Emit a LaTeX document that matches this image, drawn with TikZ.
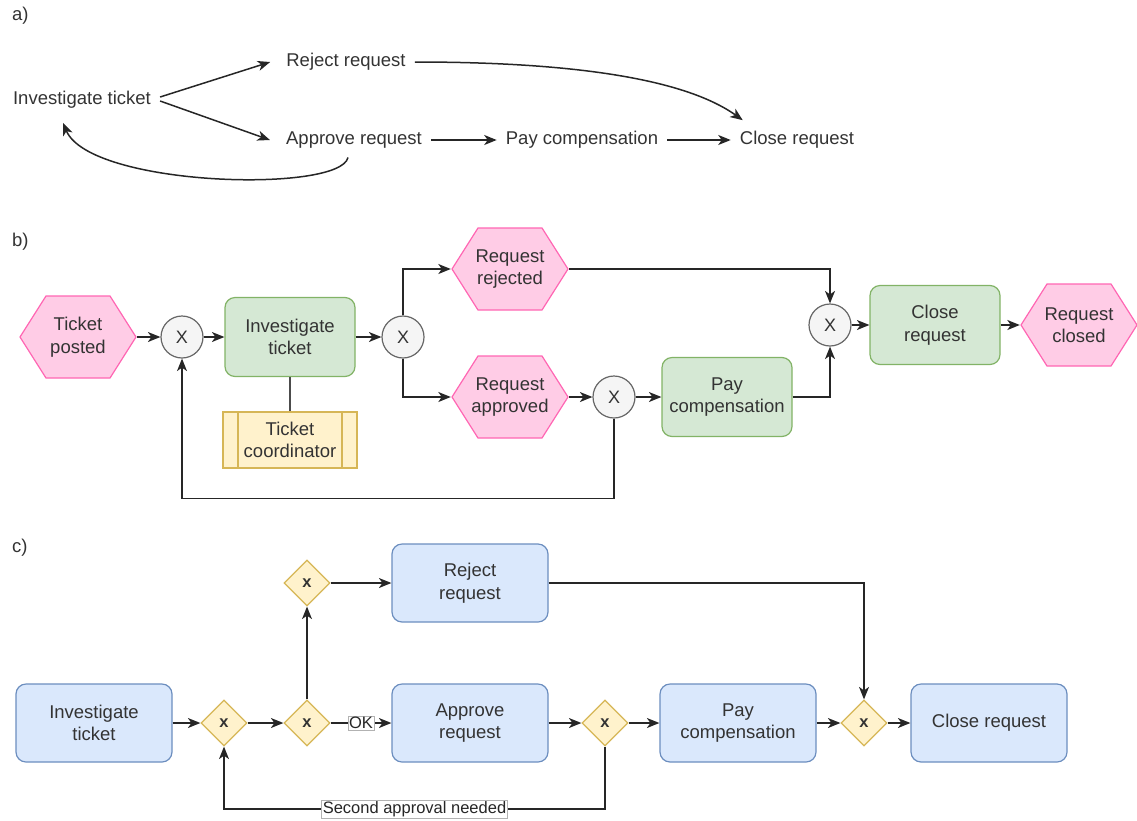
\documentclass[tikz,border=0pt]{standalone}
\usepackage{fontspec}
\setmainfont{Liberation Sans}
\usetikzlibrary{arrows.meta,shapes.geometric,calc}

\definecolor{txt}{HTML}{333333}
\definecolor{evfill}{HTML}{FFCCE6}
\definecolor{evline}{HTML}{FF66B3}
\definecolor{fnfill}{HTML}{D5E8D4}
\definecolor{fnline}{HTML}{82B366}
\definecolor{gwfill}{HTML}{F5F5F5}
\definecolor{gwline}{HTML}{666666}
\definecolor{orgfill}{HTML}{FFF2CC}
\definecolor{orgline}{HTML}{D6B656}
\definecolor{actfill}{HTML}{DAE8FC}
\definecolor{actline}{HTML}{6C8EBF}

\begin{document}
\begin{tikzpicture}[x=1pt,y=-1pt,
  every node/.style={font=\fontsize{18.5}{22.5}\selectfont, text=txt},
  flow/.style={line width=1.5pt, draw=black!85,
    -{Stealth[length=12.5pt,width=10pt,inset=3.5pt]}},
  link/.style={line width=1.5pt, draw=black!70},
  plain/.style={inner xsep=9pt, inner ysep=4pt},
  tag/.style={anchor=west, inner sep=0pt},
  % EPC event: hexagon drawn inside the node rectangle
  event/.style={rectangle, minimum width=118, minimum height=84, inner sep=0pt,
    align=center,
    path picture={
      \filldraw[fill=evfill, draw=evline, line width=1.2pt]
        ([xshift=1pt]path picture bounding box.west)
        -- ([xshift=27pt,yshift=-1pt]path picture bounding box.north west)
        -- ([xshift=-27pt,yshift=-1pt]path picture bounding box.north east)
        -- ([xshift=-1pt]path picture bounding box.east)
        -- ([xshift=-27pt,yshift=1pt]path picture bounding box.south east)
        -- ([xshift=27pt,yshift=1pt]path picture bounding box.south west)
        -- cycle;}},
  func/.style={rectangle, rounded corners=10pt, minimum width=130, minimum height=79,
    fill=fnfill, draw=fnline, line width=1.2pt, align=center},
  org/.style={rectangle, minimum width=134, minimum height=56, inner sep=0pt,
    fill=orgfill, draw=orgline, line width=1.2pt, align=center,
    path picture={
      \draw[orgline, line width=1.2pt]
        ([xshift=15pt]path picture bounding box.north west)
        -- ([xshift=15pt]path picture bounding box.south west)
        ([xshift=-15pt]path picture bounding box.north east)
        -- ([xshift=-15pt]path picture bounding box.south east);}},
  xorc/.style={circle, minimum size=42, inner sep=0pt, fill=gwfill, draw=gwline,
    line width=1.2pt, font=\fontsize{18}{18}\selectfont},
  act/.style={rectangle, rounded corners=10pt, minimum width=156, minimum height=78,
    fill=actfill, draw=actline, line width=1.2pt, align=center},
  xd/.style={diamond, minimum width=46, minimum height=46, inner sep=0pt, aspect=1,
    fill=orgfill, draw=orgline, line width=1.2pt,
    font=\bfseries\fontsize{16.5}{16.5}\selectfont},
  lbl/.style={fill=white, draw=black!30, line width=0.6pt, inner xsep=1pt,
    inner ysep=1pt, font=\fontsize{16.5}{18}\selectfont, text=black!85}
]
\useasboundingbox (0,0) rectangle (1137,820);

%% ---------- a) plain activity sequence ----------
\node[tag] (la) at (12,16) {a)};
\node[plain] (ait) at (82,100) {Investigate ticket};
\node[plain] (arr) at (346,62) {Reject request};
\node[plain] (aar) at (354,140) {Approve request};
\node[plain] (apc) at (582,140) {Pay compensation};
\node[plain] (acr) at (797,140) {Close request};

\draw[flow] ([yshift=3pt]ait.east) -- ([xshift=-7pt]arr.west);
\draw[flow] ([yshift=-1pt]ait.east) -- ([xshift=-7pt]aar.west);
\draw[flow] (aar.east) -- (apc.west);
\draw[flow] (apc.east) -- (acr.west);
\draw[flow] (arr.east) .. controls +(140,0) and +(-63,-45) .. ([shift={(12,-7)}]acr.north west);
\draw[flow] ([shift={(-6,5)}]aar.south) .. controls +(-8,36) and +(27,64) .. ([shift={(-19,10)}]ait.south);

%% ---------- b) event-driven process chain ----------
\node[tag] (lb) at (12,242) {b)};
\node[event] (tp) at (78,337) {Ticket\\posted};
\node[xorc] (x1) at (182,337) {X};
\node[func] (it) at (290,337) {Investigate\\ticket};
\node[org] (tc) at (290,440) {Ticket\\coordinator};
\node[xorc] (x2) at (403,337) {X};
\node[event] (rr) at (510,269) {Request\\rejected};
\node[event] (ra) at (510,397) {Request\\approved};
\node[xorc] (x3) at (614,397) {X};
\node[func] (pc) at (727,397) {Pay\\compensation};
\node[xorc] (x4) at (830,325) {X};
\node[func] (cr) at (935,325) {Close\\request};
\node[event] (rc) at (1079,325) {Request\\closed};

\draw[flow] (tp.east) -- (x1.west);
\draw[flow] (x1.east) -- (it.west);
\draw[flow] (it.east) -- (x2.west);
\draw[link] (it.south) -- (tc.north);
\draw[flow] (x2.north) |- (rr.west);
\draw[flow] (x2.south) |- (ra.west);
\draw[flow] (ra.east) -- (x3.west);
\draw[flow] (x3.east) -- (pc.west);
\draw[flow] (x3.south) -- ++(0,80) -| (x1.south);
\draw[flow] (pc.east) -| (x4.south);
\draw[flow] (rr.east) -| (x4.north);
\draw[flow] (x4.east) -- (cr.west);
\draw[flow] (cr.east) -- (rc.west);

%% ---------- c) BPMN process ----------
\node[tag] (lc) at (12,548) {c)};
\node[act] (cit) at (94,723) {Investigate\\ticket};
\node[xd] (d1) at (224,723) {x};
\node[xd] (d2) at (307,723) {x};
\node[xd] (d3) at (307,583) {x};
\node[act] (crj) at (470,583) {Reject\\request};
\node[act] (cap) at (470,723) {Approve\\request};
\node[xd] (d4) at (605,723) {x};
\node[act] (cpc) at (738,723) {Pay\\compensation};
\node[xd] (d5) at (864,723) {x};
\node[act] (ccr) at (989,723) {Close request};

\draw[flow] (cit.east) -- (d1.west);
\draw[flow] (d1.east) -- (d2.west);
\draw[flow] (d2.east) -- node[lbl] (okl) {OK} (cap.west);
\draw[flow] (d2.north) -- (d3.south);
\draw[flow] (d3.east) -- (crj.west);
\draw[flow] (crj.east) -| (d5.north);
\draw[flow] (cap.east) -- (d4.west);
\draw[flow] (d4.east) -- (cpc.west);
\draw[flow] (cpc.east) -- (d5.west);
\draw[flow] (d5.east) -- (ccr.west);
\draw[flow] (d4.south) -- ++(0,62.5) -| node[lbl, pos=0.25] (sal) {Second approval needed} (d1.south);

\end{tikzpicture}
\end{document}
